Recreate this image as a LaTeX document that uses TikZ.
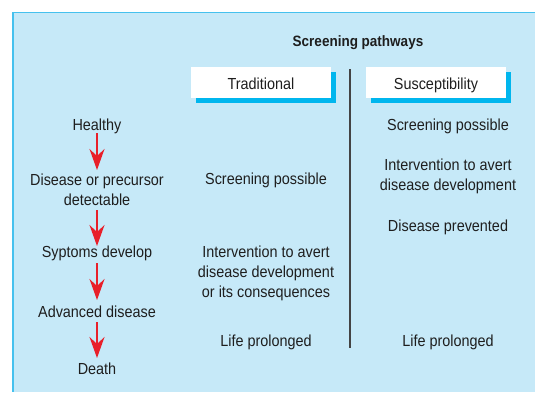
\documentclass[tikz,border=0pt]{standalone}
\usepackage{fontspec}
\setmainfont{Liberation Sans}[FakeStretch=0.9]
\usetikzlibrary{arrows.meta,shadows}
\definecolor{bgblue}{HTML}{C6E9F8}
\definecolor{edgeblue}{HTML}{45C1EE}
\definecolor{shadowcyan}{HTML}{00B6EE}
\definecolor{arrred}{HTML}{E8202A}
\definecolor{txt}{HTML}{1E1E1E}
\definecolor{vline}{HTML}{444444}
\begin{document}
\begin{tikzpicture}[x=1pt,y=-1pt,
  lbl/.style={inner sep=0pt,align=center,text=txt,font=\fontsize{16}{20}\selectfont},
  ttl/.style={inner sep=0pt,text=txt,font=\fontsize{15}{18}\selectfont\bfseries},
  headbox/.style={lbl,fill=white,minimum width=140pt,minimum height=31pt,
    text height=14.5pt,text depth=0pt,
    drop shadow={shadow xshift=5pt,shadow yshift=-5pt,fill=shadowcyan,opacity=1}},
  flow/.style={draw=arrred,line width=2pt,-{Stealth[length=21pt,width=15pt,inset=7pt]}}]
\useasboundingbox (0,0) rectangle (535,392);
\fill[bgblue] (13,12.7) rectangle (535,392);
\draw[edgeblue,line width=1.5pt] (535,12.7) -- (13,12.7) -- (13,392);
% title and headers
\node[ttl] (title) at (358,42.5) {Screening pathways};
\node[headbox] (trad) at (261,82.5) {Traditional};
\node[headbox] (susc) at (436,82.5) {Susceptibility};
% divider
\coordinate (vtop) at (350,69);
\coordinate (vbot) at (350,348);
\draw[vline,line width=1.2pt] (vtop) -- (vbot);
% left column
\node[lbl] (healthy) at (97,126) {Healthy};
\node[lbl] (disease) at (97,189.5) {Disease or precursor\\detectable};
\node[lbl] (sympt) at (97,253) {Syptoms develop};
\node[lbl] (adv) at (97,312) {Advanced disease};
\node[lbl] (death) at (97,369) {Death};
\draw[flow,shorten <=7pt,shorten >=19.5pt] (healthy.center) -- (disease.center);
\draw[flow,shorten <=20.5pt,shorten >=7pt] (disease.center) -- (sympt.center);
\draw[flow,shorten <=10pt,shorten >=12pt] (sympt.center) -- (adv.center);
\draw[flow,shorten <=10pt,shorten >=11pt] (adv.center) -- (death.center);
% traditional column
\node[lbl] (tscreen) at (266,180) {Screening possible};
\node[lbl] (tinterv) at (266,273) {Intervention to avert\\disease development\\or its consequences};
\node[lbl] (tlife) at (266,342) {Life prolonged};
% susceptibility column
\node[lbl] (sscreen) at (448,126) {Screening possible};
\node[lbl] (sinterv) at (448,176) {Intervention to avert\\disease development};
\node[lbl] (sprev) at (448,227) {Disease prevented};
\node[lbl] (slife) at (448,342) {Life prolonged};
\end{tikzpicture}
\end{document}
